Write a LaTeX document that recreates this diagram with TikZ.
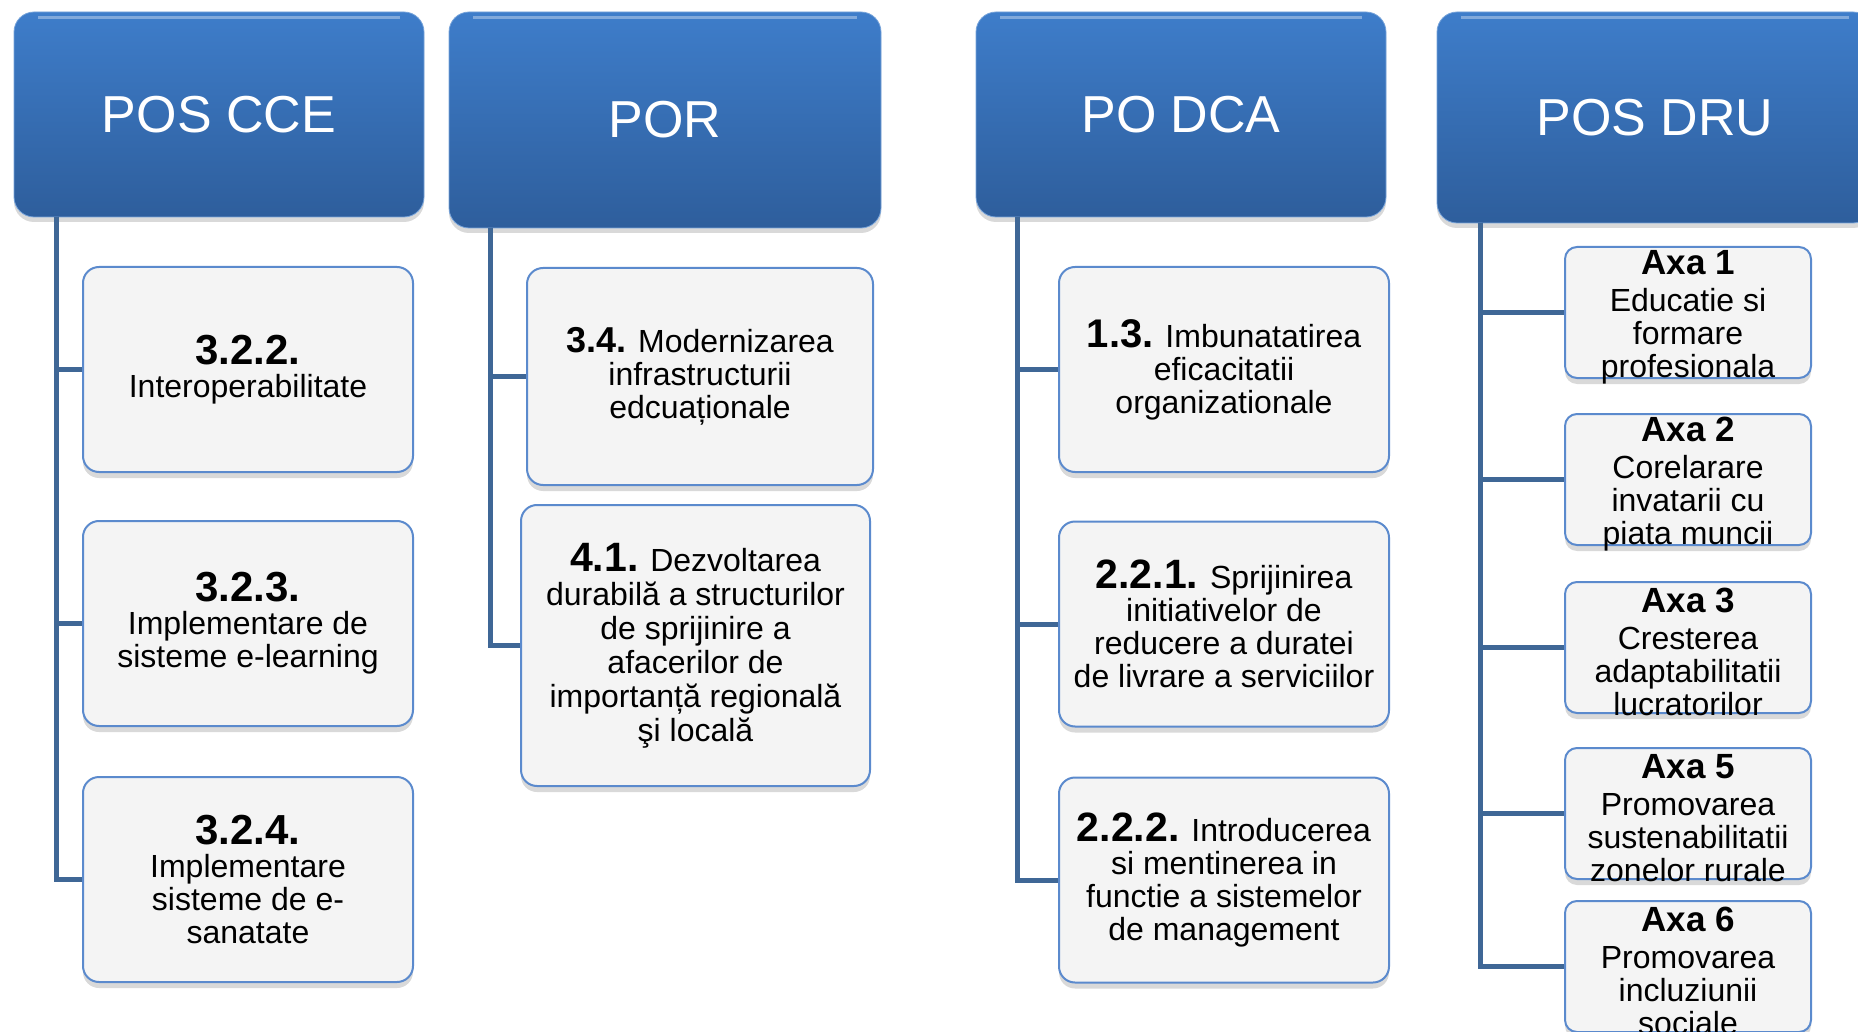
\documentclass[tikz,border=0pt]{standalone}
\usepackage{fontspec}
\setmainfont{Liberation Sans}
\usetikzlibrary{shadows}

\definecolor{linkblue}{RGB}{63,103,150}
\definecolor{hdrtop}{RGB}{62,125,202}
\definecolor{hdrbot}{RGB}{46,94,156}
\definecolor{boxedge}{RGB}{91,138,205}
\definecolor{boxfill}{RGB}{244,244,244}

\newcommand{\nr}[2]{{\fontsize{#1}{#1}\selectfont\bfseries #2}}
\newcommand{\axl}[1]{\rule{0pt}{17pt}\nr{17.5}{Axa #1}}

\tikzset{
	hdr/.style={rounded corners=10pt, top color=hdrtop, bottom color=hdrbot, draw=hdrtop!70!white,
		text=white, font=\fontsize{26}{30}\selectfont,
		drop shadow={opacity=0.3, shadow xshift=0pt, shadow yshift=-2.5pt},
		path picture={\draw[white, opacity=0.35, line width=1.5pt]
			([xshift=12pt, yshift=-3pt]path picture bounding box.north west) --
			([xshift=-12pt, yshift=-3pt]path picture bounding box.north east);}},
	item/.style={rounded corners=8pt, draw=boxedge, line width=1pt, fill=boxfill, align=center,
		minimum width=165pt, minimum height=102.5pt, inner sep=0pt, font=\fontsize{16}{16.5}\selectfont,
		drop shadow={opacity=0.3, shadow xshift=0pt, shadow yshift=-3pt}},
	axa/.style={item, rounded corners=6pt, minimum width=123pt, minimum height=65.5pt, inner ysep=-4pt},
	link/.style={draw=linkblue, line width=2.5pt, to path={|- (\tikztotarget)}}
}

\begin{document}
\begin{tikzpicture}[x=0.5pt, y=-0.5pt]
		\clip (0,0) rectangle (1858,1032);

		% program headers
		\node[hdr, minimum width=205pt, minimum height=102.5pt] (cce) at (219,114.5) {POS CCE};
		\node[hdr, minimum width=216pt, minimum height=108pt] (por) at (665,120) {POR};
		\node[hdr, minimum width=205pt, minimum height=102.5pt] (dca) at (1181,114.5) {PO DCA};
		\node[hdr, minimum width=218pt, minimum height=105.5pt] (dru) at (1655,117.5) {POS DRU};

		\coordinate (cceb) at (56,217);
		\coordinate (porb) at (490,228);
		\coordinate (dcab) at (1017,217);
		\coordinate (drub) at (1480,223);

		% POS CCE
		\node[item] (c1) at (248,369.5) {\nr{21}{3.2.2.}\\Interoperabilitate};
		\node[item] (c2) at (248,623.5) {\nr{21}{3.2.3.}\\Implementare de\\sisteme e-learning};
		\node[item] (c3) at (248,879.5) {\nr{21}{3.2.4.}\\Implementare\\sisteme de e-\\sanatate};

		% POR
		\node[item, minimum width=173pt, minimum height=108.5pt] (p1) at (700,376.5)
			{\nr{18}{3.4.} Modernizarea\\infrastructurii\\edcuaționale};
		\node[item, minimum width=174.5pt, minimum height=140.5pt, font=\fontsize{16}{17}\selectfont] (p2) at (695.5,645.5)
			{\nr{20.5}{4.1.} Dezvoltarea\\durabilă a structurilor\\de sprijinire a\\afacerilor de\\importanță regională\\şi locală};

		% PO DCA
		\node[item] (d1) at (1224,369.5) {\nr{20}{1.3.} Imbunatatirea\\eficacitatii\\organizationale};
		\node[item] (d2) at (1224,624) {\nr{20.5}{2.2.1.} Sprijinirea\\initiativelor de\\reducere a duratei\\de livrare a serviciilor};
		\node[item] (d3) at (1224,880) {\nr{20.5}{2.2.2.} Introducerea\\si mentinerea in\\functie a sistemelor\\de management};

		% POS DRU
		\node[axa] (a1) at (1688,312.5) {\axl{1}\\[2pt]Educatie si\\formare\\profesionala};
		\node[axa] (a2) at (1688,479.5) {\axl{2}\\[2pt]Corelarare\\invatarii cu\\piata muncii};
		\node[axa] (a3) at (1688,647.5) {\axl{3}\\[2pt]Cresterea\\adaptabilitatii\\lucratorilor};
		\node[axa] (a5) at (1688,813.5) {\axl{5}\\[2pt]Promovarea\\sustenabilitatii\\zonelor rurale};
		\node[axa] (a6) at (1688,966.5) {\axl{6}\\[2pt]Promovarea\\incluziunii\\sociale};

		\path (cceb) edge[link] (c1) edge[link] (c2) edge[link] (c3)
		(porb) edge[link] (p1) edge[link] (p2)
		(dcab) edge[link] (d1) edge[link] (d2) edge[link] (d3)
		(drub) edge[link] (a1) edge[link] (a2) edge[link] (a3) edge[link] (a5) edge[link] (a6);
	\end{tikzpicture}
\end{document}
